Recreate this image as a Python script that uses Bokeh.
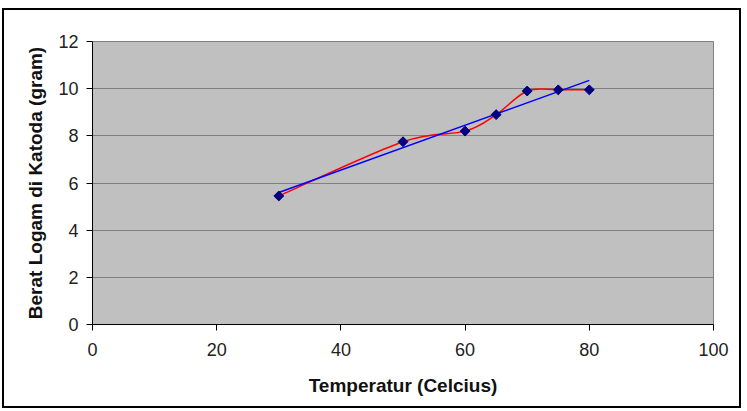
import numpy as np
from bokeh.plotting import figure
from bokeh.models import Range1d, FixedTicker, ColumnDataSource
from bokeh.embed import file_html
from bokeh.resources import INLINE

# Data
temperature = [30, 50, 60, 65, 70, 75, 80]
berat = [5.45, 7.75, 8.2, 8.9, 9.9, 9.95, 9.95]
x_ticks = [0, 20, 40, 60, 80, 100]
y_ticks = [0, 2, 4, 6, 8, 10, 12]

p = figure(width=739, height=400, output_backend="svg", toolbar_location=None,
           x_range=Range1d(0, 100), y_range=Range1d(0, 12),
           min_border_left=88, min_border_right=30, min_border_top=31, min_border_bottom=86,
           styles={"border": "2px solid #000", "position": "absolute", "left": "2px", "top": "8px"})
p.background_fill_color = "#C0C0C0"
p.border_fill_color = "white"
p.outline_line_color = "#808080"
p.outline_line_width = 1

p.xgrid.visible = False
p.ygrid.grid_line_color = "#808080"
p.ygrid.grid_line_width = 1

for ax in (p.xaxis, p.yaxis):
    ax.axis_line_color = "#000000"
    ax.major_tick_line_color = "#000000"
    ax.major_tick_out = 6
    ax.major_tick_in = 0
    ax.minor_tick_line_color = None
    ax.major_label_text_font = "Liberation Sans"
    ax.major_label_text_font_size = "18px"
    ax.major_label_text_color = "#222222"
    ax.axis_label_text_font = "Liberation Sans"
    ax.axis_label_text_font_style = "bold"
    ax.axis_label_text_color = "#111111"
    ax.axis_label_text_font_size = "19px"

p.xaxis.ticker = FixedTicker(ticks=x_ticks)
p.yaxis.ticker = FixedTicker(ticks=y_ticks)
p.xaxis.axis_label = "Temperatur (Celcius)"
p.yaxis.axis_label = "Berat Logam di Katoda (gram)"
p.xaxis.major_label_standoff = 12
p.yaxis.major_label_standoff = 8
p.xaxis.axis_label_standoff = 16
p.yaxis.axis_label_standoff = 9

# Smoothed red line (Catmull-Rom style Bezier segments, like Excel smoothing)
xs = np.array(temperature, dtype=float)
ys = np.array(berat, dtype=float)
n = len(xs)
seg = dict(x0=[], y0=[], x1=[], y1=[], cx0=[], cy0=[], cx1=[], cy1=[])
for i in range(n - 1):
    i0 = max(i - 1, 0)
    i3 = min(i + 2, n - 1)
    seg["x0"].append(xs[i]); seg["y0"].append(ys[i])
    seg["x1"].append(xs[i + 1]); seg["y1"].append(ys[i + 1])
    seg["cx0"].append(xs[i] + (xs[i + 1] - xs[i0]) / 6)
    seg["cy0"].append(ys[i] + (ys[i + 1] - ys[i0]) / 6)
    seg["cx1"].append(xs[i + 1] - (xs[i3] - xs[i]) / 6)
    seg["cy1"].append(ys[i + 1] - (ys[i3] - ys[i]) / 6)
p.bezier(x0="x0", y0="y0", x1="x1", y1="y1", cx0="cx0", cy0="cy0", cx1="cx1", cy1="cy1",
         source=ColumnDataSource(seg), line_color="#FF0000", line_width=1.5)

# Linear trendline
slope, intercept = np.polyfit(xs, ys, 1)
tx = [xs.min(), xs.max()]
ty = [intercept + slope * v for v in tx]
p.line(tx, ty, line_color="#0000FF", line_width=1.5)

# Markers (diamonds)
p.scatter(temperature, berat, marker="square", angle=np.pi / 4, size=7,
          fill_color="#000080", line_color="#000080")

open("out.html", "w").write(file_html(p, INLINE))
